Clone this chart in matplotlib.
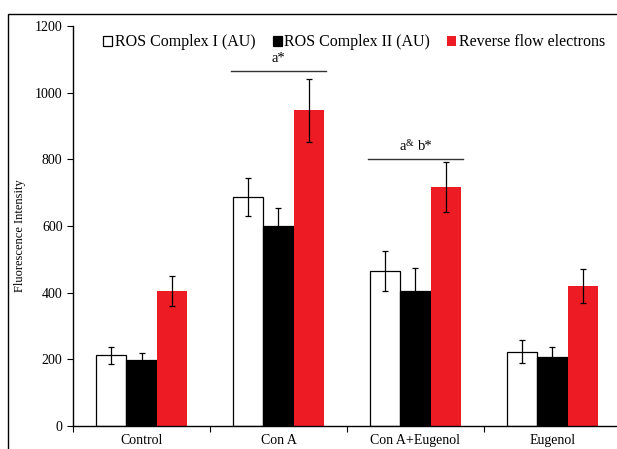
import numpy as np
import matplotlib.pyplot as plt
from matplotlib.patches import Rectangle

plt.rcParams['font.family'] = ['Liberation Serif', 'DejaVu Serif']

groups = ['Control', 'Con A', 'Con A+Eugenol', 'Eugenol']
series = ['ROS Complex I (AU)', 'ROS Complex II (AU)', 'Reverse flow electrons']
complex1 = [212, 687, 466, 223]
complex1_err = [25, 56, 60, 35]
complex2 = [197, 600, 405, 206]
complex2_err = [22, 53, 68, 30]
reverse = [405, 947, 716, 420]
reverse_err = [45, 95, 75, 50]
yticks = [0, 200, 400, 600, 800, 1000, 1200]

fig = plt.figure(figsize=(6.17, 4.49), dpi=100)
ax = fig.add_axes([73/617, 1-426/449, 548/617, 400/449])

# picture frame
fig.patches.append(Rectangle((8/617, -0.1), 1.2, 1-14/449+0.1, transform=fig.transFigure,
                             fill=False, edgecolor='black', linewidth=1.0))

x = np.arange(len(groups)) + 0.5
w = 0.22
kw = dict(capsize=2.5, error_kw=dict(elinewidth=0.9, capthick=0.9, ecolor='black'))
ax.bar(x - w, complex1, w, yerr=complex1_err, color='white', edgecolor='black',
       linewidth=0.9, label=series[0], **kw)
ax.bar(x, complex2, w, yerr=complex2_err, color='black', edgecolor='black',
       linewidth=0.9, label=series[1], **kw)
ax.bar(x + w, reverse, w, yerr=reverse_err, color='#ED1C24', edgecolor='#ED1C24',
       linewidth=0, label=series[2], **kw)

# significance lines
ax.plot([x[1]-0.35, x[1]+0.35], [1065, 1065], color='#333333', lw=1.0)
ax.text(x[1], 1083, 'a*', ha='center', va='bottom', fontsize=10.5)
ax.plot([x[2]-0.35, x[2]+0.35], [801, 801], color='#333333', lw=1.0)
ax.annotate('a', (x[2], 818), xytext=(-7, 0), textcoords='offset points',
            ha='right', va='bottom', fontsize=10.5)
ax.annotate('&', (x[2], 818), xytext=(-7, 4), textcoords='offset points',
            ha='left', va='bottom', fontsize=7)
ax.annotate('b*', (x[2], 818), xytext=(1.5, 0), textcoords='offset points',
            ha='left', va='bottom', fontsize=10.5)

ax.set_xlim(0, 4)
ax.set_ylim(0, 1200)
ax.set_yticks(yticks)
ax.set_xticks([0, 1, 2, 3, 4])
ax.set_xticklabels([])
ax.set_xticks(x, minor=True)
ax.set_xticklabels(groups, minor=True, fontsize=10)
ax.tick_params(axis='x', which='minor', length=0, pad=6)
ax.tick_params(axis='x', which='major', length=4, direction='out')
ax.tick_params(axis='y', length=4, direction='out', labelsize=10)
for s in ['top', 'right']:
    ax.spines[s].set_visible(False)
ax.spines['left'].set_linewidth(1.0)
ax.spines['bottom'].set_linewidth(1.0)
ax.set_ylabel('Fluorescence Intensity', fontsize=9)
ax.yaxis.set_label_coords(-0.086, 0.475)

leg = ax.legend(loc='center', bbox_to_anchor=(0.574, 0.906), bbox_transform=fig.transFigure,
                ncol=3, frameon=False, fontsize=11.5, handlelength=0.55, handleheight=0.6,
                handletextpad=0.15, columnspacing=1.1)

fig.savefig('out.png', dpi=100)
